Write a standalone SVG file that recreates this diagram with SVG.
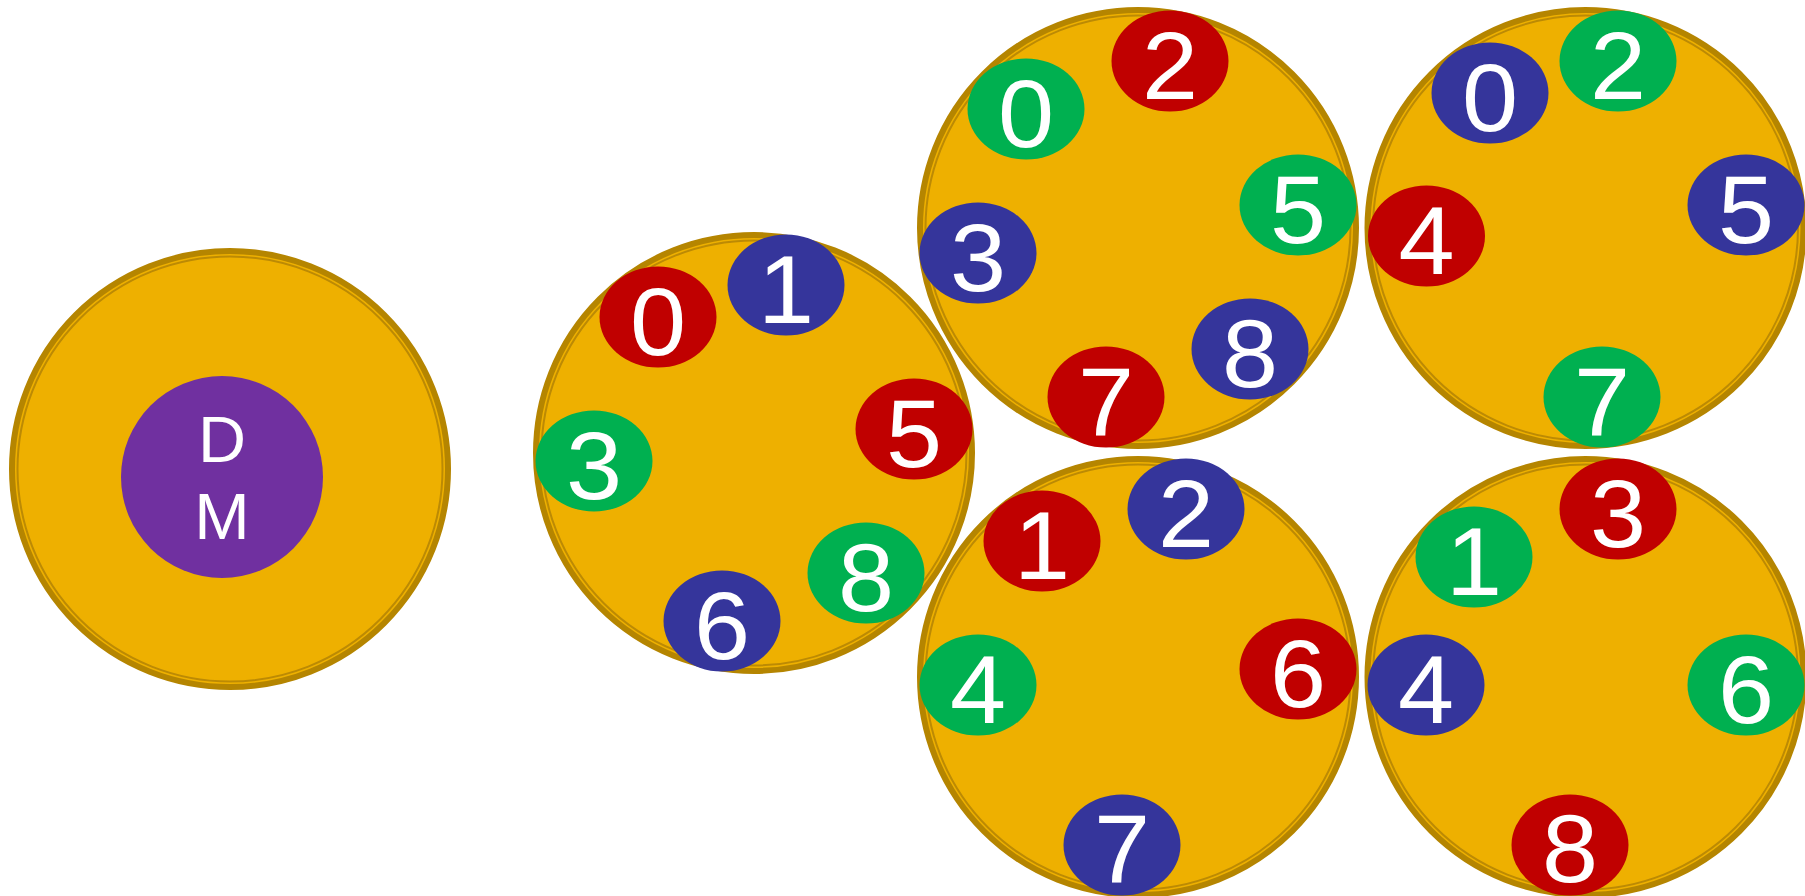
<svg xmlns="http://www.w3.org/2000/svg" width="1805" height="896" viewBox="0 0 1805 896">
<style>
.ring{fill:#EEB000;stroke:#B58500;stroke-width:6}
.ring2{fill:none;stroke:#BC8A04;stroke-width:2}
.r{fill:#C00000}.b{fill:#35359B}.g{fill:#00B050}.p{fill:#7030A0}
.n{font-family:"Liberation Sans",Arial,sans-serif;font-size:96px;fill:#FFFFFF;text-anchor:middle}
.dm{font-family:"Liberation Sans",Arial,sans-serif;font-size:64px;fill:#FFFFFF;text-anchor:middle}
</style>
<rect width="1805" height="896" fill="#FFFFFF"/>
<g id="ring-dm"><circle class="ring" cx="230" cy="469" r="218"/><circle class="ring2" cx="230" cy="469" r="212.5"/></g>
<g id="ring-a"><circle class="ring" cx="754" cy="453" r="218"/><circle class="ring2" cx="754" cy="453" r="212.5"/></g>
<g id="ring-b"><circle class="ring" cx="1138" cy="228" r="218"/><circle class="ring2" cx="1138" cy="228" r="212.5"/></g>
<g id="ring-c"><circle class="ring" cx="1585.5" cy="228" r="218"/><circle class="ring2" cx="1585.5" cy="228" r="212.5"/></g>
<g id="ring-d"><circle class="ring" cx="1138" cy="677" r="218"/><circle class="ring2" cx="1138" cy="677" r="212.5"/></g>
<g id="ring-e"><circle class="ring" cx="1585.5" cy="677" r="218"/><circle class="ring2" cx="1585.5" cy="677" r="212.5"/></g>
<g id="dm"><circle class="p" cx="222" cy="477" r="101"/><text class="dm" transform="translate(222 462) scale(1.04 1)">D</text><text class="dm" transform="translate(222 539) scale(1.04 1)">M</text></g>
<g id="a0"><ellipse class="r" cx="658" cy="317" rx="58.5" ry="50.5"/><text class="n" transform="translate(658 354.5) scale(1.05 1)">0</text></g>
<g id="a1"><ellipse class="b" cx="786" cy="285" rx="58.5" ry="50.5"/><text class="n" transform="translate(786 322.5) scale(1.05 1)">1</text></g>
<g id="a5"><ellipse class="r" cx="914" cy="429" rx="58.5" ry="50.5"/><text class="n" transform="translate(914 466.5) scale(1.05 1)">5</text></g>
<g id="a3"><ellipse class="g" cx="594" cy="461" rx="58.5" ry="50.5"/><text class="n" transform="translate(594 498.5) scale(1.05 1)">3</text></g>
<g id="a8"><ellipse class="g" cx="866" cy="573" rx="58.5" ry="50.5"/><text class="n" transform="translate(866 610.5) scale(1.05 1)">8</text></g>
<g id="a6"><ellipse class="b" cx="722" cy="621" rx="58.5" ry="50.5"/><text class="n" transform="translate(722 658.5) scale(1.05 1)">6</text></g>
<g id="b2"><ellipse class="r" cx="1170" cy="61" rx="58.5" ry="50.5"/><text class="n" transform="translate(1170 98.5) scale(1.05 1)">2</text></g>
<g id="b0"><ellipse class="g" cx="1026" cy="109" rx="58.5" ry="50.5"/><text class="n" transform="translate(1026 146.5) scale(1.05 1)">0</text></g>
<g id="b5"><ellipse class="g" cx="1298" cy="205" rx="58.5" ry="50.5"/><text class="n" transform="translate(1298 242.5) scale(1.05 1)">5</text></g>
<g id="b3"><ellipse class="b" cx="978" cy="253" rx="58.5" ry="50.5"/><text class="n" transform="translate(978 290.5) scale(1.05 1)">3</text></g>
<g id="b8"><ellipse class="b" cx="1250" cy="349" rx="58.5" ry="50.5"/><text class="n" transform="translate(1250 386.5) scale(1.05 1)">8</text></g>
<g id="b7"><ellipse class="r" cx="1106" cy="397" rx="58.5" ry="50.5"/><text class="n" transform="translate(1106 434.5) scale(1.05 1)">7</text></g>
<g id="c0"><ellipse class="b" cx="1490" cy="93" rx="58.5" ry="50.5"/><text class="n" transform="translate(1490 130.5) scale(1.05 1)">0</text></g>
<g id="c2"><ellipse class="g" cx="1618" cy="61" rx="58.5" ry="50.5"/><text class="n" transform="translate(1618 98.5) scale(1.05 1)">2</text></g>
<g id="c5"><ellipse class="b" cx="1746" cy="205" rx="58.5" ry="50.5"/><text class="n" transform="translate(1746 242.5) scale(1.05 1)">5</text></g>
<g id="c4"><ellipse class="r" cx="1426.5" cy="236" rx="58.5" ry="50.5"/><text class="n" transform="translate(1426.5 273.5) scale(1.05 1)">4</text></g>
<g id="c7"><ellipse class="g" cx="1602" cy="397" rx="58.5" ry="50.5"/><text class="n" transform="translate(1602 434.5) scale(1.05 1)">7</text></g>
<g id="d1"><ellipse class="r" cx="1042" cy="541" rx="58.5" ry="50.5"/><text class="n" transform="translate(1042 578.5) scale(1.05 1)">1</text></g>
<g id="d2"><ellipse class="b" cx="1186" cy="509" rx="58.5" ry="50.5"/><text class="n" transform="translate(1186 546.5) scale(1.05 1)">2</text></g>
<g id="d4"><ellipse class="g" cx="978" cy="685" rx="58.5" ry="50.5"/><text class="n" transform="translate(978 722.5) scale(1.05 1)">4</text></g>
<g id="d6"><ellipse class="r" cx="1298" cy="669" rx="58.5" ry="50.5"/><text class="n" transform="translate(1298 706.5) scale(1.05 1)">6</text></g>
<g id="d7"><ellipse class="b" cx="1122" cy="845" rx="58.5" ry="50.5"/><text class="n" transform="translate(1122 881.5) scale(1.05 1)">7</text></g>
<g id="e3"><ellipse class="r" cx="1618" cy="509" rx="58.5" ry="50.5"/><text class="n" transform="translate(1618 546.5) scale(1.05 1)">3</text></g>
<g id="e1"><ellipse class="g" cx="1474" cy="557" rx="58.5" ry="50.5"/><text class="n" transform="translate(1474 594.5) scale(1.05 1)">1</text></g>
<g id="e4"><ellipse class="b" cx="1426" cy="685" rx="58.5" ry="50.5"/><text class="n" transform="translate(1426 722.5) scale(1.05 1)">4</text></g>
<g id="e6"><ellipse class="g" cx="1746" cy="685" rx="58.5" ry="50.5"/><text class="n" transform="translate(1746 722.5) scale(1.05 1)">6</text></g>
<g id="e8"><ellipse class="r" cx="1570" cy="845" rx="58.5" ry="50.5"/><text class="n" transform="translate(1570 881.5) scale(1.05 1)">8</text></g>
<g id="connectors"></g>
</svg>
